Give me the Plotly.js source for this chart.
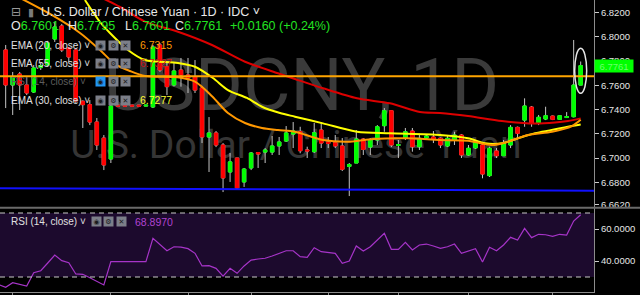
<!DOCTYPE html>
<html><head><meta charset="utf-8">
<script src="https://cdn.plot.ly/plotly-3.0.1.min.js"></script>
<style>html,body{margin:0;padding:0;background:#000;}#chart{width:640px;height:295px;}</style>
</head><body><div id="chart"></div>
<script>
// ---- data ----
const candleOpen = [6.7890,6.7602,6.7692,6.7602,6.7544,6.7745,6.7766,6.7980,6.8087,6.7906,
6.7890,6.7468,6.7440,6.7297,6.7165,6.6993,6.7436,6.7436,6.7436,6.7436,
6.7428,6.7421,6.7931,6.7752,6.7602,6.7725,6.7684,6.7670,6.7577,6.7174,
6.7207,6.7108,6.6886,6.7001,6.6804,6.6919,6.7046,6.7050,6.7050,6.7100,
6.7141,6.7198,6.7218,6.7067,6.7053,6.7231,6.7133,6.7127,6.7100,6.6932,
6.6960,6.7157,6.7091,6.7149,6.7267,6.7390,6.7104,6.7163,6.7223,6.7094,
6.7165,6.7174,6.7163,6.7100,6.7149,6.7190,6.7026,6.7084,6.7108,6.6856,
6.7059,6.7020,6.7108,6.7253,6.7313,6.7420,6.7286,6.7322,6.7346,6.7319,
6.7334,6.7341,6.7601];
const candleHigh = [6.7931,6.7709,6.7709,6.7667,6.7766,6.7785,6.7965,6.8120,6.8104,6.7915,
6.7906,6.7475,6.7478,6.7330,6.7190,6.7453,6.7436,6.7436,6.7436,6.7436,
6.7436,6.7931,6.7947,6.7791,6.7783,6.7824,6.7824,6.7807,6.7594,6.7338,
6.7223,6.7124,6.7042,6.7001,6.6919,6.7050,6.7050,6.7083,6.7182,6.7174,
6.7264,6.7297,6.7258,6.7094,6.7289,6.7297,6.7174,6.7190,6.7165,6.6960,
6.7231,6.7165,6.7165,6.7272,6.7412,6.7396,6.7149,6.7248,6.7248,6.7190,
6.7190,6.7223,6.7170,6.7190,6.7217,6.7198,6.7108,6.7141,6.7116,6.7094,
6.7083,6.7149,6.7272,6.7260,6.7492,6.7429,6.7355,6.7423,6.7350,6.7352,
6.7379,6.7972,6.7795];
const candleLow = [6.7412,6.7355,6.7396,6.7519,6.7536,6.7725,6.7750,6.7956,6.7873,6.7791,
6.7453,6.7248,6.7272,6.7067,6.6902,6.6960,6.7428,6.7428,6.7428,6.7428,
6.7428,6.7412,6.7710,6.7519,6.7590,6.7588,6.7536,6.7536,6.7124,6.6886,
6.7091,6.6721,6.6804,6.6738,6.6763,6.6902,6.6919,6.6960,6.7026,6.7026,
6.7133,6.7083,6.7040,6.7001,6.7042,6.7083,6.7083,6.7083,6.6894,6.6688,
6.6960,6.7026,6.7026,6.7108,6.7217,6.7091,6.7001,6.7149,6.7053,6.7067,
6.7157,6.7124,6.7083,6.7091,6.7108,6.7001,6.7020,6.7075,6.6834,6.6845,
6.7001,6.7020,6.7083,6.7157,6.7258,6.7258,6.7272,6.7313,6.7313,6.7316,
6.7330,6.7335,6.7601];
const candleClose = [6.7602,6.7667,6.7602,6.7536,6.7742,6.7762,6.7947,6.8079,6.7890,6.7832,
6.7470,6.7440,6.7297,6.7108,6.6944,6.7429,6.7428,6.7428,6.7428,6.7428,
6.7436,6.7914,6.7725,6.7588,6.7717,6.7684,6.7659,6.7560,6.7174,6.7207,
6.7108,6.6837,6.6969,6.6754,6.6910,6.7042,6.7034,6.7067,6.7100,6.7133,
6.7207,6.7223,6.7061,6.7059,6.7209,6.7124,6.7121,6.7100,6.6908,6.6948,
6.7157,6.7072,6.7149,6.7258,6.7390,6.7108,6.7112,6.7217,6.7094,6.7163,
6.7182,6.7157,6.7108,6.7163,6.7190,6.7026,6.7081,6.7133,6.6869,6.7081,
6.7020,6.7122,6.7253,6.7204,6.7429,6.7292,6.7336,6.7349,6.7319,6.7349,
6.7342,6.7601,6.7761];

// EMA lines, sampled at bar positions
const ema55Idx = [13.45,16.3,19.87,24.57,29.42,34.13,38.83,41.26,45.25,50.1,54.8,59.08,61.93,65.93,70.78,75.49,78.34,80.19,82];
const ema55Val = [6.8326,6.8244,6.8123,6.8040,6.7931,6.7793,6.7698,6.7651,6.7575,6.7492,6.7451,6.7379,6.7371,6.7346,6.7305,6.7285,6.7293,6.7305,6.7327];
const ema20Idx = [2.04,6.32,10.6,13.45,15.59,17.73,19.87,24.57,27.0,29.42,31.7,34.13,36.55,38.83,41.26,45.25,49.1,52.38,57.23,61.93,65.93,69.35,71.63,74.49,77.91,80.76,82];
const ema20Val = [6.8318,6.8186,6.8030,6.7890,6.7774,6.7717,6.7676,6.7665,6.7629,6.7510,6.7371,6.7289,6.7248,6.7231,6.7217,6.7149,6.7135,6.7157,6.7163,6.7149,6.7143,6.7108,6.7135,6.7190,6.7217,6.7264,6.7315];
const ema30Idx = [11.3,13.45,14.87,17.44,19.87,24.57,27.0,29.56,31.7,34.41,36.55,39.12,41.26,45.25,50.1,54.8,61.93,65.93,68.35,70.78,73.06,75.49,80.19,82];
const ema30Val = [6.8301,6.8120,6.8030,6.7890,6.7807,6.7783,6.7752,6.7659,6.7560,6.7495,6.7423,6.7371,6.7341,6.7286,6.7217,6.7204,6.7190,6.7163,6.7122,6.7122,6.7163,6.7204,6.7258,6.7277];

// RSI(14) per bar (first value belongs to the bar before the window)
const rsiIdx = [-1,0,1,2,3,4,5,6,7,8,9,10,11,12,13,14,15,16,17,18,19,20,21,22,23,24,25,26,27,28,29,30,31,32,33,34,35,36,37,38,39,40,41,42,43,44,45,46,47,48,49,50,51,52,53,54,55,56,57,58,59,60,61,62,63,64,65,66,67,68,69,70,71,72,73,74,75,76,77,78,79,80,81,82];
const rsiVal = [25.3,23.6,26.4,25.3,24.4,32.7,33.9,38.75,43.75,40.2,38.9,31.9,31.7,29.5,27.25,25.0,39.6,39.6,39.6,39.6,39.6,39.6,
54.2,50.0,46.4,48.9,48.7,47.7,44.8,36.9,37.1,35.4,30.6,35.4,32.3,36.9,40.6,41.25,41.7,43.1,44.7,46.4,46.4,
42.7,42.3,48.3,45.8,45.3,44.8,38.6,40.0,49.4,46.25,48.9,53.1,57.3,47.3,47.3,51.7,46.9,50.0,50.6,49.4,
47.9,48.9,50.6,44.8,46.25,47.7,39.4,48.6,46.4,50.0,54.8,53.1,60.4,54.6,56.7,56.4,55.4,56.7,56.25,65.0,68.897];

const hLineOrange = [6.7673, 6.7673];   // horizontal resistance
const hLineBlue = [6.6752, 6.6732];     // support, left and right ends
const rsiBands = [30, 70];
const priceTicks = [6.82,6.80,6.78,6.76,6.74,6.72,6.70,6.68,6.662];
const priceTickText = ['6.8200','6.8000','6.7800','6.7600','6.7400','6.7200','6.7000','6.6800','6.6620'];
const rsiTicks = [40, 60];
const rsiTickText = ['40.0000','60.0000'];
const timeTicks = [1,15,26,35,46,56,66,78];

// ---- layout constants ----
const W = 640, H = 295;
const xEnd = 594 / W;
const mainTop = 0, mainBot = 207, rsiTop = 208, rsiBot = 292;
const py = p => 1 - p / H;
const xRange = [-0.81, 83.9];
const FONT = 'Liberation Sans, Arial, sans-serif';

const N = candleOpen.length;
const idx = candleOpen.map((_, i) => i);
const last = N - 1;
const bodyHigh = candleOpen.map((o, i) => Math.max(o, candleClose[i]));
const bodyLow = candleOpen.map((o, i) => Math.min(o, candleClose[i]));

const GREEN = '#00ff00', RED = '#ff0000', WICK = '#c4c4c4';

const traces = [
  {type:'scatter', mode:'text', x:[0.508], y:[0.556], text:['USDCNY, 1D'], xaxis:'x', yaxis:'y',
   textfont:{family:'Roboto, sans-serif', size:73, color:'#3a3a3a'}, textposition:'middle center', hoverinfo:'skip', showlegend:false},
  {type:'scatter', mode:'text', x:[0.498], y:[0.283], text:['U.S. Dollar / Chinese Yuan'], xaxis:'x', yaxis:'y',
   textfont:{family:'Roboto, sans-serif', size:39, color:'#353535'}, textposition:'middle center', hoverinfo:'skip', showlegend:false},
  {type:'candlestick', x:idx, open:candleOpen, high:candleHigh, low:candleLow, close:candleClose,
   xaxis:'x2', yaxis:'y2', hoverinfo:'skip', showlegend:false,
   increasing:{line:{color:WICK, width:1}, fillcolor:WICK},
   decreasing:{line:{color:WICK, width:1}, fillcolor:WICK}},
  {type:'candlestick', x:idx, open:candleOpen, high:bodyHigh, low:bodyLow, close:candleClose,
   xaxis:'x2', yaxis:'y2', hoverinfo:'skip', showlegend:false,
   increasing:{line:{color:GREEN, width:1}, fillcolor:GREEN},
   decreasing:{line:{color:RED, width:1}, fillcolor:RED}},
  {type:'scatter', mode:'lines', x:ema55Idx, y:ema55Val, xaxis:'x2', yaxis:'y2', hoverinfo:'skip', showlegend:false,
   line:{color:'#dd0000', width:2, shape:'spline', smoothing:0.8}},
  {type:'scatter', mode:'lines', x:ema30Idx, y:ema30Val, xaxis:'x2', yaxis:'y2', hoverinfo:'skip', showlegend:false,
   line:{color:'#ffff00', width:2, shape:'spline', smoothing:0.8}},
  {type:'scatter', mode:'lines', x:ema20Idx, y:ema20Val, xaxis:'x2', yaxis:'y2', hoverinfo:'skip', showlegend:false,
   line:{color:'#ff9800', width:2, shape:'spline', smoothing:0.8}},
  {type:'scatter', mode:'lines', x:xRange, y:hLineOrange, xaxis:'x2', yaxis:'y2', hoverinfo:'skip', showlegend:false,
   line:{color:'#ffa500', width:2}},
  {type:'scatter', mode:'lines', x:xRange, y:hLineBlue, xaxis:'x2', yaxis:'y2', hoverinfo:'skip', showlegend:false,
   line:{color:'#1010ff', width:2}},
  {type:'scatter', mode:'lines', x:rsiIdx, y:rsiVal, xaxis:'x2', yaxis:'y3', hoverinfo:'skip', showlegend:false,
   line:{color:'#a634c8', width:1.2}}
];

const axisCommon = {showgrid:false, zeroline:false, fixedrange:true};
const layout = {
  width:W, height:H, margin:{l:0, r:0, t:0, b:0},
  paper_bgcolor:'#000000', plot_bgcolor:'rgba(0,0,0,0)',
  showlegend:false, dragmode:false, hovermode:false,
  xaxis:{...axisCommon, domain:[0, xEnd], range:[0,1], visible:false, anchor:'y'},
  yaxis:{...axisCommon, domain:[py(mainBot), py(mainTop)], range:[0,1], visible:false, anchor:'x'},
  xaxis2:{...axisCommon, domain:[0, xEnd], range:xRange, anchor:'y3', rangeslider:{visible:false},
    showline:true, linecolor:'#8c8c8c', linewidth:1, ticks:'outside', ticklen:4, tickcolor:'#8c8c8c',
    tickvals:timeTicks, showticklabels:false},
  yaxis2:{...axisCommon, domain:[py(mainBot), py(mainTop)], range:[6.6598, 6.8301], anchor:'x2', side:'right',
    showline:true, linecolor:'#8c8c8c', linewidth:1, ticks:'outside', ticklen:4, tickcolor:'#cccccc',
    tickvals:priceTicks, ticktext:priceTickText, tickfont:{family:FONT, size:9.5, color:'#e6e6e6'}},
  yaxis3:{...axisCommon, domain:[py(rsiBot), py(rsiTop)], range:[20.625, 73.125], anchor:'x2', side:'right',
    showline:true, linecolor:'#8c8c8c', linewidth:1, ticks:'outside', ticklen:4, tickcolor:'#cccccc',
    tickvals:rsiTicks, ticktext:rsiTickText, tickfont:{family:FONT, size:9.5, color:'#e6e6e6'}},
  shapes:[
    {type:'rect', layer:'below', xref:'paper', yref:'y3', x0:0, x1:xEnd, y0:rsiBands[0], y1:rsiBands[1],
     fillcolor:'#1c0a2d', line:{width:0}},
    {type:'line', xref:'paper', yref:'y3', x0:0, x1:xEnd, y0:rsiBands[1], y1:rsiBands[1], line:{color:'#c8c8c8', width:1, dash:'5px,4px'}},
    {type:'line', xref:'paper', yref:'y3', x0:0, x1:xEnd, y0:rsiBands[0], y1:rsiBands[0], line:{color:'#c8c8c8', width:1, dash:'5px,4px'}},
    {type:'line', xref:'paper', yref:'paper', x0:0, x1:1, y0:py(207.8), y1:py(207.8), line:{color:'#6a6a6a', width:2}},
    {type:'circle', layer:'above', xref:'x2', yref:'y2', xsizemode:'pixel', ysizemode:'pixel',
     xanchor:last, yanchor:(candleHigh[last]+candleLow[last])/2, x0:-6, x1:6, y0:-20, y1:25,
     line:{color:'#e6e6e6', width:1.5}}
  ],
  annotations:[]
};

const A = layout.annotations;
function txt(x, y, text, color, size, extra) {
  A.push(Object.assign({xref:'paper', yref:'paper', x:x/W, y:py(y), xanchor:'left', yanchor:'middle',
    text:text, showarrow:false, font:{family:FONT, size:size, color:color}}, extra || {}));
}
function icons(x0, y, firstBlue) {
  const sym = ['◉','⚙','✕'];
  sym.forEach((s, k) => {
    A.push({xref:'paper', yref:'paper', x:(x0 + k*12.5)/W, y:py(y), xanchor:'center', yanchor:'middle',
      text:s, showarrow:false, width:9, height:9, borderpad:0,
      bgcolor:(firstBlue && k===0) ? '#2196f3' : '#7c7f89',
      font:{family:'DejaVu Sans, sans-serif', size:7, color:'#1b1b1b'}});
  });
}
const f4 = v => v.toFixed(4);
const LG = '#22e322';
// header
txt(9, 12, '⊟', '#9a9a9a', 12, {font:{family:'DejaVu Sans', size:12, color:'#9a9a9a'}});
txt(26, 12, '▮', '#7a7a7a', 11, {font:{family:'DejaVu Sans', size:11, color:'#7a7a7a'}});
txt(39, 12, 'U.S. Dollar / Chinese Yuan · 1D · IDC ˅', '#e8e8e8', 12.5);
const chg = candleClose[last] - candleClose[last-1];
const pct = chg / candleClose[last-1] * 100;
txt(9.3, 26, 'O<span style="color:'+LG+'">'+f4(candleOpen[last])+'</span>', '#e8e8e8', 12.5);
txt(66, 26, 'H<span style="color:'+LG+'">'+f4(candleHigh[last])+'</span>', '#e8e8e8', 12.5);
txt(122.7, 26, 'L<span style="color:'+LG+'">'+f4(candleLow[last])+'</span>', '#e8e8e8', 12.5);
txt(173.3, 26, 'C<span style="color:'+LG+'">'+f4(candleClose[last])+'</span>', '#e8e8e8', 12.5);
txt(228.3, 26, (chg>=0?'+':'')+f4(chg), LG, 12.5);
txt(277.3, 26, '('+(pct>=0?'+':'')+pct.toFixed(2)+'%)', LG, 12.5);
// indicator legends
txt(9.3, 45, 'EMA (20, close) ˅', '#e0e0e0', 10); icons(100.5, 45, false);
txt(138, 45, f4(ema20Val[ema20Val.length-1]), '#ff9800', 10.5);
txt(9.3, 63.3, 'EMA (55, close) ˅', '#e0e0e0', 10); icons(100.5, 63.3, false);
txt(138, 63.3, f4(ema55Val[ema55Val.length-1]), '#cc1414', 10.5);
txt(9.3, 81.7, 'RSI (14, close) ˅', '#5c5c5c', 10); icons(100.5, 81.7, true);
txt(9.3, 100, 'EMA (30, close) ˅', '#e0e0e0', 10); icons(100.5, 100, false);
txt(138, 100, f4(ema30Val[ema30Val.length-1]), '#ffff33', 10.5);
txt(9.3, 221.7, 'RSI (14, close) ˅', '#e0e0e0', 10); icons(96, 221.7, false);
txt(133.3, 221.7, f4(rsiVal[rsiVal.length-1]), '#b043d0', 10.5);
// last price label
A.push({xref:'paper', yref:'y2', x:xEnd, y:candleClose[last], xanchor:'left', yanchor:'middle',
  text:f4(candleClose[last]), showarrow:false, bgcolor:'#00ff00', width:38, height:12, borderpad:0,
  font:{family:FONT, size:9.5, color:'#6dff6d'}});

Plotly.newPlot('chart', traces, layout, {displayModeBar:false, staticPlot:true});
</script>
</body></html>
